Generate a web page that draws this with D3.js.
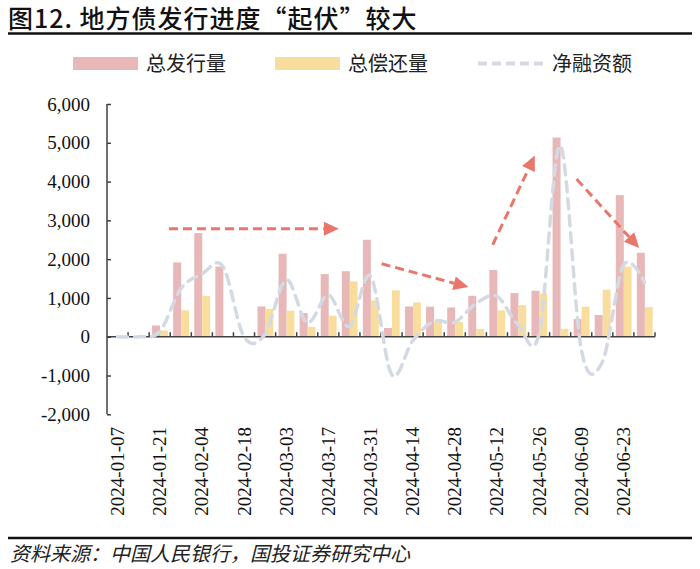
<!DOCTYPE html>
<html><head><meta charset="utf-8">
<script src="https://cdn.jsdelivr.net/npm/d3@7"></script>
<style>body{margin:0;background:#fff}svg{display:block}</style>
</head><body><svg id="c" width="700" height="569"></svg>
<script>
const weeks = ["2024-01-07","2024-01-14","2024-01-21","2024-01-28","2024-02-04","2024-02-11","2024-02-18","2024-02-25","2024-03-03","2024-03-10","2024-03-17","2024-03-24","2024-03-31","2024-04-07","2024-04-14","2024-04-21","2024-04-28","2024-05-05","2024-05-12","2024-05-19","2024-05-26","2024-06-02","2024-06-09","2024-06-16","2024-06-23","2024-06-30"];
const issuance  = [0,0,290,1915,2670,1810,0,780,2140,610,1615,1690,2500,225,780,775,755,1055,1720,1125,1185,5135,455,560,3650,2165];
const repayment = [0,0,160,680,1055,0,0,715,670,250,540,1425,935,1195,885,380,380,200,680,815,1110,205,775,1210,1810,765];
const netFinancing = [0,0,130,1235,1615,1810,0,65,1470,360,1075,265,1565,-970,-105,395,375,855,1040,310,75,4930,-320,-650,1840,1400];
const yTicks = [-2000,-1000,0,1000,2000,3000,4000,5000,6000];
const seriesNames = ["总发行量","总偿还量","净融资额"];
const titleText = "图12. 地方债发行进度“起伏”较大";
const sourceText = "资料来源：中国人民银行，国投证券研究中心";
// trend arrows: [startIndex, startValue, endIndex, endValue] (index = fractional category position)
const arrows = [[2.94,2784,11.0,2784],[13.03,1881,17.15,1280],[18.30,2371,20.30,4673],[22.28,4064,25.25,2286]];

const svg = d3.select("#c");
const pLeft = 107, pRight = 655, pTop = 104, pBottom = 414.3;
const x = d3.scaleBand().domain(weeks).range([pLeft, pRight]).padding(0);
const y = d3.scaleLinear().domain([-2000, 6000]).range([pBottom, pTop]);
const bw = x.bandwidth();
const pink = "#E7B8B7", yellow = "#F8DD9D", gray = "#D3DAE3", red = "#E8766B", axisC = "#404040";
const serif = '"Liberation Serif"';
const cjk = '"Noto Sans CJK SC"';
const fmt = v => d3.format(",")(v).replace("−", "-");

// title
svg.append("text").attr("x", 8).attr("y", 28).style("font-family", cjk).style("font-size", "25px")
  .style("font-weight", 500).style("letter-spacing", "1px").attr("fill", "#111").text(titleText);
svg.append("line").attr("x1", 8).attr("x2", 692).attr("y1", 33.5).attr("y2", 33.5).attr("stroke", "#111").attr("stroke-width", 2.5);

// legend
const lg = svg.append("g").style("font-family", cjk).style("font-size", "20px").attr("fill", "#222");
lg.append("rect").attr("x", 73).attr("y", 57).attr("width", 65).attr("height", 13).attr("fill", pink);
lg.append("text").attr("x", 146).attr("y", 71).text(seriesNames[0]);
lg.append("rect").attr("x", 275).attr("y", 57).attr("width", 65).attr("height", 13).attr("fill", yellow);
lg.append("text").attr("x", 348).attr("y", 71).text(seriesNames[1]);
lg.append("line").attr("x1", 478).attr("x2", 546).attr("y1", 63.5).attr("y2", 63.5).attr("stroke", gray)
  .attr("stroke-width", 4).attr("stroke-dasharray", "9,5");
lg.append("text").attr("x", 552).attr("y", 71).text(seriesNames[2]);

// bars
const y0 = y(0);
svg.append("g").selectAll("rect").data(weeks).join("rect")
  .attr("x", d => x(d) + bw * 0.14).attr("width", bw * 0.38)
  .attr("y", (d, i) => Math.min(y(issuance[i]), y0)).attr("height", (d, i) => Math.abs(y(issuance[i]) - y0))
  .attr("fill", pink);
svg.append("g").selectAll("rect").data(weeks).join("rect")
  .attr("x", d => x(d) + bw * 0.52).attr("width", bw * 0.37)
  .attr("y", (d, i) => Math.min(y(repayment[i]), y0)).attr("height", (d, i) => Math.abs(y(repayment[i]) - y0))
  .attr("fill", yellow);

// y axis
const ya = svg.append("g").attr("transform", `translate(${pLeft},0)`)
  .call(d3.axisLeft(y).tickValues(yTicks).tickSize(-4).tickPadding(17).tickFormat(fmt));
ya.select(".domain").attr("stroke", axisC).attr("stroke-width", 1.5).attr("d", `M0,${pTop}V${pBottom}`);
ya.selectAll(".tick line").attr("stroke", axisC).attr("stroke-width", 1.5);
ya.selectAll(".tick text").style("font-family", serif).style("font-size", "19px").attr("fill", "#111");

// x axis at zero
const xa = svg.append("g").attr("transform", `translate(0,${y0})`);
xa.append("line").attr("x1", pLeft).attr("x2", pRight).attr("stroke", axisC).attr("stroke-width", 1.5);
xa.selectAll("line.tk").data(weeks).join("line").attr("class", "tk")
  .attr("x1", d => x(d) + bw).attr("x2", d => x(d) + bw).attr("y1", 0).attr("y2", -4.5)
  .attr("stroke", axisC).attr("stroke-width", 1.5);
svg.append("g").selectAll("text").data(weeks.filter((d, i) => i % 2 === 0)).join("text")
  .attr("transform", d => `translate(${x(d) + bw / 2 + 6.5},427) rotate(-90)`)
  .attr("text-anchor", "end").style("font-family", serif).style("font-size", "19px").attr("fill", "#111")
  .text(d => d);

// net financing line
const line = d3.line().x((d, i) => x(weeks[i]) + bw / 2).y(d => y(d)).curve(d3.curveCardinal.tension(0));
svg.append("path").datum(netFinancing).attr("d", line).attr("fill", "none").attr("stroke", gray)
  .attr("stroke-width", 3.5).attr("stroke-dasharray", "10,7").attr("stroke-linecap", "round");

// arrows
const px = v => pLeft + v * bw;
const ag = svg.append("g");
arrows.forEach(([i0, v0, i1, v1]) => {
  const x0 = px(i0), yy0 = y(v0), x1 = px(i1), yy1 = y(v1);
  const dx = x1 - x0, dy = yy1 - yy0, L = Math.hypot(dx, dy), ux = dx / L, uy = dy / L;
  const head = 15, half = 7;
  const bx = x1 - ux * head, by = yy1 - uy * head;
  ag.append("line").attr("x1", x0).attr("y1", yy0).attr("x2", bx).attr("y2", by)
    .attr("stroke", red).attr("stroke-width", 3).attr("stroke-dasharray", "9,5");
  ag.append("path").attr("d", `M${x1},${yy1}L${bx - uy * half},${by + ux * half}L${bx + uy * half},${by - ux * half}Z`)
    .attr("fill", red);
});

// footer
svg.append("line").attr("x1", 8).attr("x2", 692).attr("y1", 538).attr("y2", 538).attr("stroke", "#111").attr("stroke-width", 2.5);
svg.append("text").attr("x", 10).attr("y", 561).style("font-family", cjk).style("font-size", "20px")
  .style("font-style", "italic").attr("fill", "#222").text(sourceText);
</script></body></html>
